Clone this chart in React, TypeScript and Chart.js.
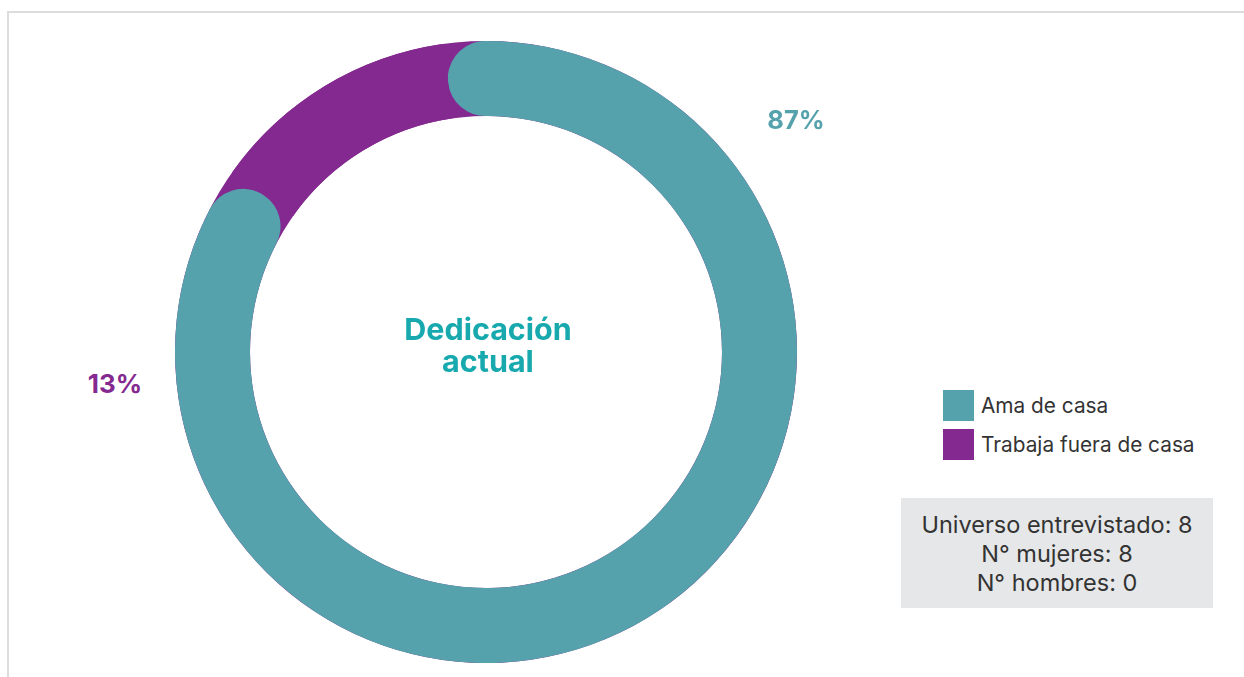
import React, { useEffect, useRef } from "react";
import { Chart, registerables } from "chart.js";

Chart.register(...registerables);

const categories: string[] = ["Ama de casa", "Trabaja fuera de casa"];
const values: number[] = [87, 13];
const valueLabels: string[] = ["87%", "13%"];
const colors: string[] = ["#55A1AC", "#84298F"];
const centerTitle: string[] = ["Dedicación", "actual"];
const infoLines: string[] = ["Universo entrevistado: 8", "N° mujeres: 8", "N° hombres: 0"];

const trackPlugin = {
  id: "track",
  beforeDatasetsDraw(chart: any) {
    const meta = chart.getDatasetMeta(0);
    if (!meta || !meta.data.length) return;
    const arc = meta.data[0];
    const { x, y, innerRadius, outerRadius } = arc.getProps(["x", "y", "innerRadius", "outerRadius"], true);
    const ctx = chart.ctx;
    ctx.save();
    ctx.beginPath();
    ctx.arc(x, y, outerRadius, 0, Math.PI * 2);
    ctx.arc(x, y, innerRadius, 0, Math.PI * 2, true);
    ctx.closePath();
    ctx.fillStyle = colors[1];
    ctx.fill();
    ctx.restore();
  },
};

export default function App() {
  const ref = useRef<HTMLCanvasElement | null>(null);

  useEffect(() => {
    if (!ref.current) return;
    const chart = new Chart(ref.current, {
      type: "doughnut",
      data: {
        labels: categories,
        datasets: [
          {
            data: values,
            backgroundColor: colors,
            borderWidth: 0,
            borderRadius: (c: any) => (c.dataIndex === 0 ? 38 : 0),
          } as any,
        ],
      },
      options: {
        responsive: false,
        maintainAspectRatio: false,
        animation: false,
        cutout: 236,
        rotation: -8,
        layout: { padding: 0 },
        plugins: {
          legend: { display: false },
          tooltip: { enabled: false },
        },
      } as any,
      plugins: [trackPlugin],
    });
    return () => chart.destroy();
  }, []);

  const font = "Inter, 'Noto Sans', sans-serif";

  return (
    <div style={{ position: "fixed", inset: 0, overflow: "hidden", background: "#fff", fontFamily: font }}>
      <div
        style={{
          position: "absolute",
          left: 7,
          top: 11,
          width: 1400,
          height: 800,
          borderTop: "2px solid #dcdcdc",
          borderLeft: "2px solid #dcdcdc",
        }}
      />
      <div style={{ position: "absolute", left: 175, top: 41, width: 622, height: 622 }}>
        <canvas ref={ref} width={622} height={622} style={{ width: 622, height: 622, display: "block" }} />
      </div>
      <div
        style={{
          position: "absolute",
          left: 378,
          width: 220,
          top: 313,
          textAlign: "center",
          color: "#17A9AE",
          fontWeight: 700,
          fontSize: 30.5,
          lineHeight: "32px",
        }}
      >
        {centerTitle.map((t) => (
          <div key={t}>{t}</div>
        ))}
      </div>
      <div
        style={{
          position: "absolute",
          left: 746,
          width: 100,
          top: 104,
          textAlign: "center",
          color: colors[0],
          fontWeight: 700,
          fontSize: 25.5,
          lineHeight: "32px",
        }}
      >
        {valueLabels[0]}
      </div>
      <div
        style={{
          position: "absolute",
          left: 65,
          width: 100,
          top: 368,
          textAlign: "center",
          color: colors[1],
          fontWeight: 700,
          fontSize: 26,
          lineHeight: "32px",
        }}
      >
        {valueLabels[1]}
      </div>
      <div style={{ position: "absolute", left: 943, top: 390 }}>
        {categories.map((c, i) => (
          <div key={c} style={{ display: "flex", alignItems: "center", height: 31, marginBottom: 8 }}>
            <div style={{ width: 31, height: 31, background: colors[i] }} />
            <div style={{ marginLeft: 7, fontSize: 20.8, color: "#333", whiteSpace: "nowrap" }}>{c}</div>
          </div>
        ))}
      </div>
      <div
        style={{
          position: "absolute",
          left: 901,
          top: 498,
          width: 312,
          height: 110,
          background: "#E6E7E8",
          display: "flex",
          flexDirection: "column",
          justifyContent: "center",
          alignItems: "center",
          fontSize: 23.5,
          lineHeight: "29px",
          color: "#333",
        }}
      >
        {infoLines.map((l) => (
          <div key={l} style={{ whiteSpace: "nowrap" }}>{l}</div>
        ))}
      </div>
    </div>
  );
}
